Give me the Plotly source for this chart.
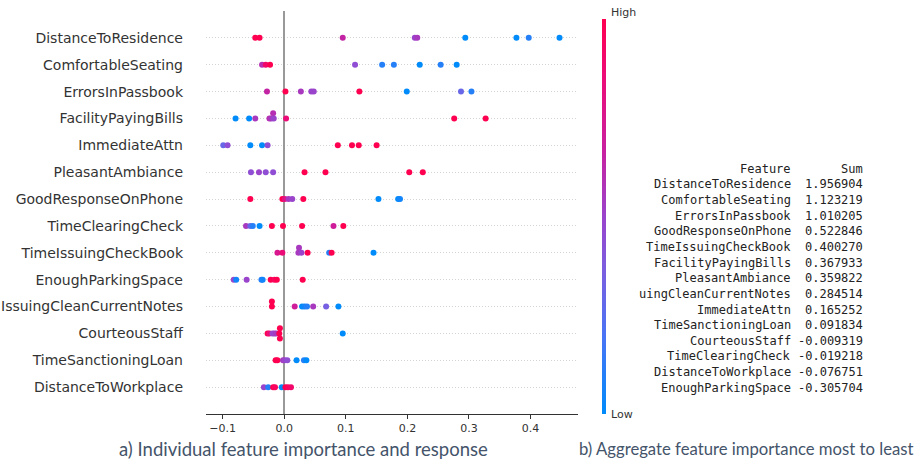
import plotly.graph_objects as go

# ---------------- data ----------------
features = ["DistanceToResidence", "ComfortableSeating", "ErrorsInPassbook",
            "FacilityPayingBills", "ImmediateAttn", "PleasantAmbiance",
            "GoodResponseOnPhone", "TimeClearingCheck", "TimeIssuingCheckBook",
            "EnoughParkingSpace", "IssuingCleanCurrentNotes", "CourteousStaff",
            "TimeSanctioningLoan", "DistanceToWorkplace"]

shap_values = [
    [-0.047, -0.040, 0.095, 0.212, 0.216, 0.294, 0.377, 0.397, 0.447],
    [-0.036, -0.030, -0.023, 0.115, 0.159, 0.178, 0.220, 0.254, 0.280],
    [-0.028, 0.002, 0.027, 0.044, 0.048, 0.122, 0.199, 0.287, 0.304],
    [-0.079, -0.057, -0.047, -0.024, -0.021, -0.018, -0.017, 0.003, 0.276, 0.327],
    [-0.099, -0.092, -0.055, -0.036, -0.027, 0.087, 0.110, 0.121, 0.150],
    [-0.054, -0.041, -0.030, -0.018, 0.033, 0.067, 0.203, 0.225],
    [-0.055, -0.003, 0.001, 0.007, 0.013, 0.031, 0.153, 0.185, 0.188],
    [-0.062, -0.055, -0.051, -0.040, -0.020, -0.002, 0.029, 0.080, 0.096],
    [-0.011, -0.003, 0.024, 0.023, 0.028, 0.038, 0.073, 0.077, 0.145],
    [-0.082, -0.078, -0.061, -0.037, -0.035, -0.022, -0.016, -0.012, 0.030],
    [-0.020, -0.020, 0.017, 0.029, 0.033, 0.037, 0.047, 0.068, 0.088],
    [-0.027, -0.024, -0.019, -0.016, -0.013, -0.007, -0.008, -0.007, 0.095],
    [-0.014, -0.011, -0.002, 0.001, 0.005, 0.020, 0.032, 0.036],
    [-0.033, -0.026, -0.018, -0.015, -0.004, 0.002, 0.006, 0.011],
]

feature_values = [
    [1, 1, 0.65, 0.5, 0.55, 0, 0, 0.1, 0],
    [0.6, 0.9, 1, 0.45, 0.1, 0.1, 0, 0.1, 0],
    [0.65, 1, 0.55, 0.5, 0.5, 1, 0, 0.3, 0.1],
    [0, 0, 0.55, 0.6, 0.55, 0.6, 0.5, 0.85, 1, 1],
    [0.3, 0.45, 0, 0, 0.45, 1, 1, 1, 1],
    [0.45, 0.5, 0.45, 0.45, 1, 1, 1, 1],
    [1, 1, 0.8, 0.55, 0.5, 1, 0, 0, 0.05],
    [0.55, 0.3, 0.1, 0, 1, 1, 1, 0.7, 1],
    [0.75, 0.85, 0.55, 0.55, 0.5, 1, 0.1, 1, 0],
    [0.5, 0.05, 0.5, 0.1, 0.05, 1, 0.95, 1, 1],
    [1, 1, 0.7, 0, 0.05, 0.1, 0.55, 0.35, 0],
    [1, 0.85, 0.5, 0.5, 0.55, 1, 1, 1, 0],
    [1, 1, 0.55, 0.5, 0.45, 0, 0.1, 0],
    [0.5, 0.1, 1, 0.95, 0, 1, 0.95, 0.9],
]

# beeswarm stacking level of each point (0 = on the row line)
stack_levels = [
    [0] * 9,
    [0] * 9,
    [0] * 9,
    [0, 0, 0, 0, 0, 1, 0, 0, 0, 0],
    [0] * 9,
    [0] * 8,
    [0] * 9,
    [0] * 9,
    [0, 0, 1, 0, 0, 0, 0, 0, 0],
    [0] * 9,
    [1, 0, 0, 0, 0, 0, 0, 0, 0],
    [0, 0, 0, 0, 0, 1, 0, -1, 0],
    [0] * 8,
    [0] * 8,
]

x_ticks = [-0.1, 0.0, 0.1, 0.2, 0.3, 0.4]

table_features = ["DistanceToResidence", "ComfortableSeating", "ErrorsInPassbook",
                  "GoodResponseOnPhone", "TimeIssuingCheckBook", "FacilityPayingBills",
                  "PleasantAmbiance", "IssuingCleanCurrentNotes", "ImmediateAttn",
                  "TimeSanctioningLoan", "CourteousStaff", "TimeClearingCheck",
                  "DistanceToWorkplace", "EnoughParkingSpace"]
table_sums = [1.956904, 1.123219, 1.010205, 0.522846, 0.400270, 0.367933,
              0.359822, 0.284514, 0.165252, 0.091834, -0.009319, -0.019218,
              -0.076751, -0.305704]

caption_a = "a) Individual feature importance and response"
caption_b = "b) Aggregate feature importance most to least"

# ---------------- layout helpers ----------------
W, H = 918, 463
ML, MR, MT, MB = 206, 340, 11, 49
PW, PH = W - ML - MR, H - MT - MB


def px(xp):
    return (xp - ML) / PW


def py(yp):
    return (H - MB - yp) / PH


colorscale = [[0.0, "#008bfb"], [0.2, "#4a74f5"], [0.36, "#7a5fe0"],
              [0.5, "#9a44cc"], [0.67, "#c9209f"], [0.85, "#ec0c78"],
              [1.0, "#ff0051"]]

n = len(features)
xs, ys, cs = [], [], []
STACK_STEP = 0.19
for i, (vals, cols, lev) in enumerate(zip(shap_values, feature_values, stack_levels)):
    row = n - 1 - i
    for v, c, l in zip(vals, cols, lev):
        xs.append(v)
        ys.append(row + l * STACK_STEP)
        cs.append(c)

fig = go.Figure()
fig.add_trace(go.Scatter(
    x=xs, y=ys, mode="markers", hoverinfo="skip",
    marker=dict(size=6, color=cs, cmin=0, cmax=1, colorscale=colorscale,
                line=dict(width=0), showscale=True,
                colorbar=dict(thickness=4, lenmode="pixels", len=395,
                              y=py(216.5), yanchor="middle",
                              x=px(601.5), xanchor="left",
                              xpad=0, ypad=0, outlinewidth=0,
                              showticklabels=False, ticks="")),
))

annotations = []
annotations.append(dict(text="High", x=px(609), y=py(12), xref="paper", yref="paper",
                        xanchor="left", yanchor="middle", showarrow=False,
                        font=dict(size=11, color="#333333", family="DejaVu Sans")))
annotations.append(dict(text="Low", x=px(609), y=py(414), xref="paper", yref="paper",
                        xanchor="left", yanchor="middle", showarrow=False,
                        font=dict(size=11, color="#333333", family="DejaVu Sans")))

mono = dict(size=12, color="#222222", family="DejaVu Sans Mono")
FEAT_RIGHT, SUM_RIGHT = 793, 865
ROW0, ROW_STEP = 184.3, 15.65
VISIBLE_CHARS = 21  # left part of the table image is cropped
annotations.append(dict(text="Feature", x=px(FEAT_RIGHT), y=py(ROW0 - ROW_STEP),
                        xref="paper", yref="paper", xanchor="right", yanchor="middle",
                        showarrow=False, font=mono))
annotations.append(dict(text="Sum", x=px(SUM_RIGHT), y=py(ROW0 - ROW_STEP),
                        xref="paper", yref="paper", xanchor="right", yanchor="middle",
                        showarrow=False, font=mono))
for k, (f, s) in enumerate(zip(table_features, table_sums)):
    yy = py(ROW0 + k * ROW_STEP)
    annotations.append(dict(text=f[-VISIBLE_CHARS:], x=px(FEAT_RIGHT), y=yy,
                            xref="paper", yref="paper", xanchor="right",
                            yanchor="middle", showarrow=False, font=mono))
    annotations.append(dict(text=f"{s:.6f}", x=px(SUM_RIGHT), y=yy,
                            xref="paper", yref="paper", xanchor="right",
                            yanchor="middle", showarrow=False, font=mono))

annotations.append(dict(text=caption_a, x=px(303), y=py(449), xref="paper", yref="paper",
                        xanchor="center", yanchor="middle", showarrow=False,
                        font=dict(size=18.5, color="#44546a", family="Lato")))
annotations.append(dict(text=caption_b, x=px(746), y=py(449), xref="paper", yref="paper",
                        xanchor="center", yanchor="middle", showarrow=False,
                        font=dict(size=16.7, color="#44546a", family="Lato")))

fig.update_layout(
    template="none",
    width=W, height=H,
    margin=dict(l=ML, r=MR, t=MT, b=MB, pad=0),
    paper_bgcolor="white", plot_bgcolor="white",
    font=dict(family="DejaVu Sans", color="#333333"),
    showlegend=False,
    annotations=annotations,
    xaxis=dict(range=[-0.127, 0.477], tickvals=x_ticks,
               ticktext=[f"{t:.1f}".replace("-", "\u2212") for t in x_ticks],
               showgrid=False, zeroline=True, zerolinecolor="#999999",
               zerolinewidth=2, showline=True, linecolor="#333333", linewidth=1,
               ticks="outside", ticklen=4, tickcolor="#333333",
               tickfont=dict(size=11, color="#333333"), automargin=False),
    yaxis=dict(range=[-1, n], tickvals=list(range(n)),
               ticktext=features[::-1], showgrid=True, gridcolor="#d4d4d4",
               griddash="1px,2px", gridwidth=1, zeroline=False, showline=False,
               ticks="", ticklabelstandoff=22,
               tickfont=dict(size=14, color="#333333"), automargin=False),
)

fig.write_html("out.html",
               config={"displayModeBar": False},
               post_script="document.body.style.margin='0';"
                           "document.body.style.overflow='hidden';")
